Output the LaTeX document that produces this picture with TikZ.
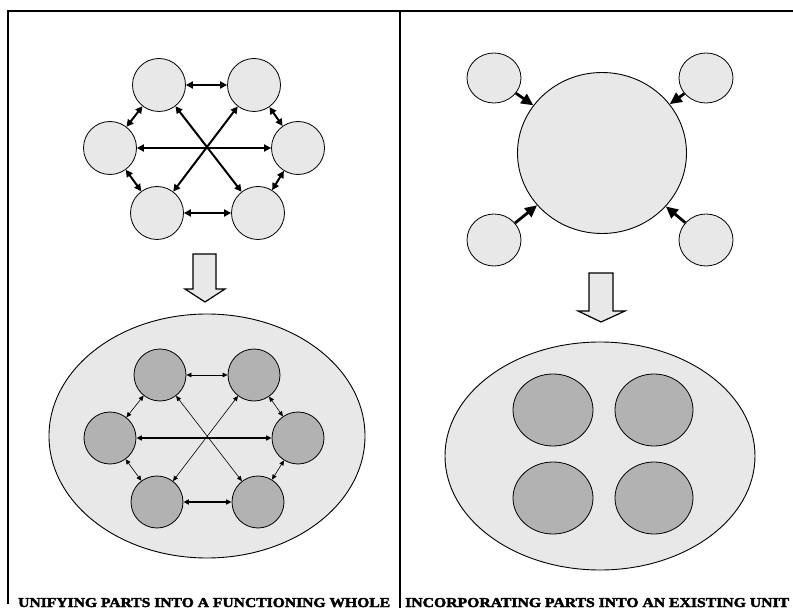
\documentclass[tikz,border=0pt]{standalone}
\usepackage{fontspec}
\setmainfont{Liberation Serif}
\newfontfamily\heavyfont{Liberation Serif}[BoldFeatures={FakeBold=2.5}]
\usetikzlibrary{arrows.meta,shapes.geometric}
\definecolor{lgray}{RGB}{232,232,232}
\definecolor{dgray}{RGB}{178,178,178}
\begin{document}
\begin{tikzpicture}[x=1pt,y=-1pt,
  frame/.style={line width=2.6pt},
  lc/.style={circle,draw,line width=0.8pt,fill=lgray,minimum size=53pt,inner sep=0pt},
  dc/.style={circle,draw,line width=0.8pt,fill=dgray,minimum size=52pt,inner sep=0pt},
  bigell/.style={ellipse,draw,line width=0.9pt,fill=lgray,inner sep=0pt},
  smell/.style={ellipse,draw,line width=0.8pt,fill=lgray,inner sep=0pt},
  dell/.style={ellipse,draw,line width=0.8pt,fill=dgray,inner sep=0pt},
  hvy/.style={line width=2pt,{Triangle[length=7pt,width=7pt]}-{Triangle[length=7pt,width=7pt]}},
  thn/.style={line width=0.6pt,{Triangle[length=5pt,width=4.5pt]}-{Triangle[length=5pt,width=4.5pt]}},
  med/.style={line width=1.6pt,{Triangle[length=5.5pt,width=5pt]}-{Triangle[length=5.5pt,width=5pt]}},
  inarr/.style={line width=2.8pt,-{Triangle[length=12pt,width=11pt]}},
  bigarrow/.style={draw,line width=1.2pt,fill=lgray,line join=miter},
  lbl/.style={inner sep=0pt,anchor=base west}
]
\useasboundingbox (0,0) rectangle (793,612);
% frame
\draw[frame] (8,604) -- (8,11) -- (793,11);
\draw[frame] (400,11) -- (400,608);

% ---- left top hexagon
\node[lc] (a1) at (159,85) {};
\node[lc] (a2) at (254,85) {};
\node[lc] (a3) at (110,148) {};
\node[lc] (a4) at (298,148) {};
\node[lc] (a5) at (157,213) {};
\node[lc] (a6) at (258,213) {};
\draw[hvy] (a1) -- (a2);
\draw[hvy] (a3) -- (a4);
\draw[hvy] (a5) -- (a6);
\draw[hvy] (a1) -- (a6);
\draw[hvy] (a2) -- (a5);
\draw[hvy] (a1) -- (a3);
\draw[hvy] (a3) -- (a5);
\draw[hvy] (a2) -- (a4);
\draw[hvy] (a4) -- (a6);

% left big arrow
\path[bigarrow] (193,254) -- (216,254) -- (216,289) -- (225,289) -- (205,302) -- (185,289) -- (193,289) -- cycle;

% ---- left bottom
\node[bigell,minimum width=316pt,minimum height=244pt] (e1) at (207,436) {};
\node[dc] (b1) at (160,375) {};
\node[dc] (b2) at (254,375) {};
\node[dc] (b3) at (110,438) {};
\node[dc] (b4) at (298,438) {};
\node[dc] (b5) at (157,502) {};
\node[dc] (b6) at (258,502) {};
\draw[thn,line width=0.8pt] (b1) -- (b2);
\draw[med] (b3) -- (b4);
\draw[med] (b5) -- (b6);
\draw[thn] (b1) -- (b6);
\draw[thn] (b2) -- (b5);
\draw[thn] (b1) -- (b3);
\draw[thn] (b3) -- (b5);
\draw[thn] (b2) -- (b4);
\draw[thn] (b4) -- (b6);

% ---- right top
\node[bigell,minimum width=169pt,minimum height=161pt] (big) at (602,153) {};
\node[smell,minimum width=54pt,minimum height=50pt] (s1) at (494,78) {};
\node[smell,minimum width=54pt,minimum height=50pt] (s2) at (706,78) {};
\node[smell,minimum width=54pt,minimum height=52pt] (s3) at (494,240) {};
\node[smell,minimum width=54pt,minimum height=52pt] (s4) at (706,240) {};
\draw[inarr] (s1) -- (big);
\draw[inarr] (s2) -- (big);
\draw[inarr] (s3) -- (big);
\draw[inarr] (s4) -- (big);

% right big arrow
\path[bigarrow] (589,273) -- (613,273) -- (613,311) -- (625,311) -- (601,322) -- (578,311) -- (589,311) -- cycle;

% ---- right bottom
\node[bigell,minimum width=310pt,minimum height=228pt] (e2) at (600,456) {};
\node[dell,minimum width=80pt,minimum height=72pt] (c1) at (553,410) {};
\node[dell,minimum width=78pt,minimum height=72pt] (c2) at (654,410) {};
\node[dell,minimum width=80pt,minimum height=72pt] (c3) at (553,498) {};
\node[dell,minimum width=78pt,minimum height=72pt] (c4) at (654,498) {};

% labels
\node[lbl] (t1) at (18,607) {\resizebox{372pt}{9pt}{\heavyfont\bfseries UNIFYING PARTS INTO A FUNCTIONING WHOLE}};
\node[lbl] (t2) at (405,607) {\resizebox{384pt}{9pt}{\heavyfont\bfseries INCORPORATING PARTS INTO AN EXISTING UNIT}};
\end{tikzpicture}
\end{document}
